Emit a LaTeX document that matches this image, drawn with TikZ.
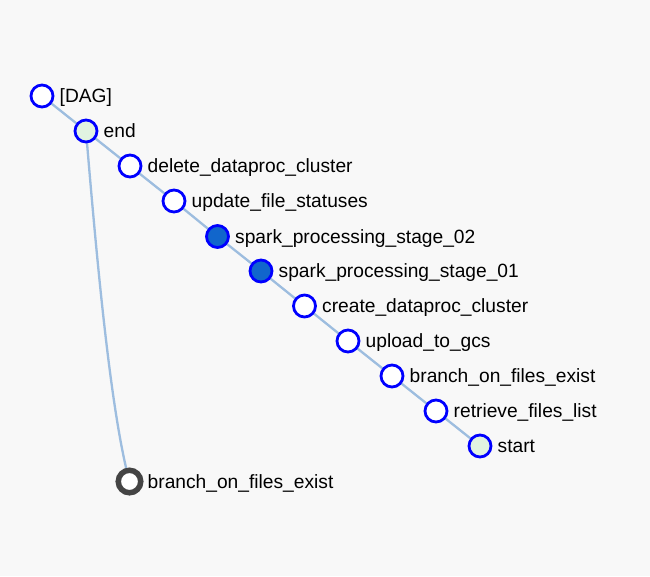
\documentclass[tikz,border=0pt]{standalone}
\usepackage{fontspec}
\setmainfont{Liberation Sans}
\definecolor{bg}{HTML}{F8F8F8}
\definecolor{linkc}{HTML}{9DBDDF}
\definecolor{greenf}{HTML}{E1F3E1}
\definecolor{sparkf}{HTML}{1166CC}
\definecolor{darkring}{HTML}{444444}
\tikzset{
  tnode/.style={circle, draw=blue, line width=2.8pt, fill=white, minimum size=22pt, inner sep=0pt},
  gnode/.style={tnode, fill=greenf},
  snode/.style={tnode, fill=sparkf},
  rnode/.style={circle, draw=darkring, line width=5.5pt, fill=white, minimum size=22.5pt, inner sep=0pt},
  lbl/.style={anchor=base west, inner sep=0pt, font=\fontsize{19.2}{23}\selectfont, text=black},
  link/.style={draw=linkc, line width=2.3pt}
}
\begin{document}
\begin{tikzpicture}[x=1pt,y=-1pt]
\fill[bg] (0,0) rectangle (650,576);
\useasboundingbox (0,0) rectangle (650,576);
% links (behind)
\coordinate (c0) at (42,96);
\coordinate (c1) at (86,131);
\coordinate (c2) at (130,166);
\coordinate (c3) at (174,201);
\coordinate (c4) at (217.5,236.5);
\coordinate (c5) at (261,271);
\coordinate (c6) at (304.5,306);
\coordinate (c7) at (348,341);
\coordinate (c8) at (392,376);
\coordinate (c9) at (436,411);
\coordinate (c10) at (480,446);
\coordinate (cb) at (129.5,481.5);
\draw[link] (c0) -- (c1) -- (c2) -- (c3) -- (c4) -- (c5) -- (c6) -- (c7) -- (c8) -- (c9) -- (c10);
\draw[link] (c1) .. controls (96,250) and (110,410) .. (cb);
% nodes
\node[tnode] (n0) at (c0) {};
\node[gnode] (n1) at (c1) {};
\node[tnode] (n2) at (c2) {};
\node[tnode] (n3) at (c3) {};
\node[snode] (n4) at (c4) {};
\node[snode] (n5) at (c5) {};
\node[tnode] (n6) at (c6) {};
\node[tnode] (n7) at (c7) {};
\node[tnode] (n8) at (c8) {};
\node[tnode] (n9) at (c9) {};
\node[gnode] (n10) at (c10) {};
\node[rnode] (nb) at (cb) {};
% labels
\node[lbl] (l0) at ([xshift=17.5pt,yshift=-6.5pt]c0) {[DAG]};
\node[lbl] (l1) at ([xshift=17.5pt,yshift=-6.5pt]c1) {end};
\node[lbl] (l2) at ([xshift=17.5pt,yshift=-6.5pt]c2) {delete\_dataproc\_cluster};
\node[lbl] (l3) at ([xshift=17.5pt,yshift=-6.5pt]c3) {update\_file\_statuses};
\node[lbl] (l4) at ([xshift=17.5pt,yshift=-6.5pt]c4) {spark\_processing\_stage\_02};
\node[lbl] (l5) at ([xshift=17.5pt,yshift=-6.5pt]c5) {spark\_processing\_stage\_01};
\node[lbl] (l6) at ([xshift=17.5pt,yshift=-6.5pt]c6) {create\_dataproc\_cluster};
\node[lbl] (l7) at ([xshift=17.5pt,yshift=-6.5pt]c7) {upload\_to\_gcs};
\node[lbl] (l8) at ([xshift=17.5pt,yshift=-6.5pt]c8) {branch\_on\_files\_exist};
\node[lbl] (l9) at ([xshift=17.5pt,yshift=-6.5pt]c9) {retrieve\_files\_list};
\node[lbl] (l10) at ([xshift=17.5pt,yshift=-6.5pt]c10) {start};
\node[lbl] (lb) at ([xshift=18pt,yshift=-6.5pt]cb) {branch\_on\_files\_exist};
\end{tikzpicture}
\end{document}
